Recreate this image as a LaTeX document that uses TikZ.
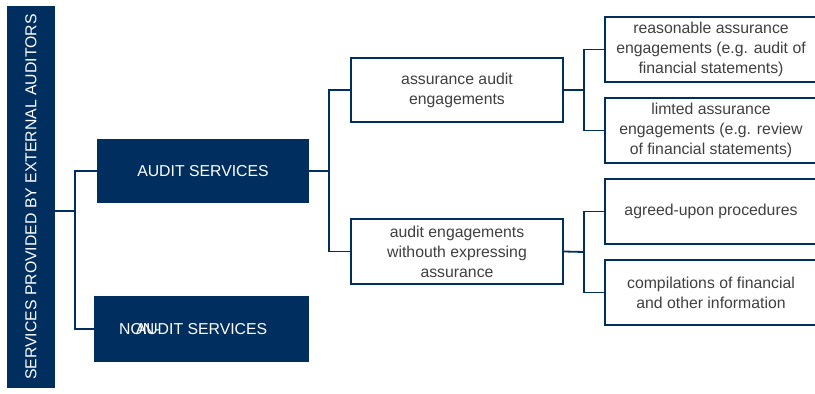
\documentclass[tikz,border=0pt]{standalone}
\usepackage{fontspec}
\setmainfont{Liberation Sans}
\definecolor{navy}{RGB}{0,47,95}
\definecolor{txtgray}{RGB}{64,64,64}
\begin{document}
\begin{tikzpicture}[x=1pt,y=-1pt,
  base/.style={font=\fontsize{15.8}{20}\selectfont, inner sep=0pt, align=center},
  darkbox/.style={base, fill=navy, text=white, minimum width=212pt, minimum height=64pt},
  lightbox/.style={base, draw=navy, line width=1.8pt, fill=white, text=txtgray, minimum width=212pt, minimum height=64pt},
  conn/.style={draw=navy, line width=1.8pt}]
\useasboundingbox (0,0) rectangle (815,394);
\begin{scope}
\clip (0,0) rectangle (815,394);
\node[base, fill=navy, text=white, minimum width=48pt, minimum height=382pt] (side) at (31,197)
  {\rotatebox{90}{SERVICES PROVIDED BY EXTERNAL AUDITORS}};
\node[darkbox] (audit) at (203,171) {AUDIT SERVICES};
\node[darkbox, minimum width=215pt, minimum height=66pt] (nonaudit) at (201.5,329) {AUDIT SERVICES};
\coordinate (nx) at (119,0);
\node[base, text=white, anchor=base west] (non) at (nonaudit.base -| nx) {NON-};
\node[lightbox] (assur) at (457,90) {assurance audit\\engagements};
\node[lightbox, minimum height=65pt] (without) at (457,251.5) {audit engagements\\withouth expressing\\assurance};
\node[lightbox, minimum height=65pt] (reas) at (711,49.5) {reasonable assurance\\engagements (e.g. audit of\\financial statements)};
\node[lightbox, minimum height=65pt] (lim) at (711,130.5) {limted assurance\\engagements (e.g. review\\of financial statements)};
\node[lightbox, minimum height=65pt] (agreed) at (711,211.5) {agreed-upon procedures};
\node[lightbox, minimum height=65pt] (comp) at (711,292.5) {compilations of financial\\and other information};
\coordinate (j1) at (75,211);
\coordinate (j2) at (329,171);
\coordinate (j3) at (584,90);
\coordinate (j4) at (584,252);
\draw[conn] (side.east |- j1) -- (j1);
\draw[conn] (audit.west) -| (j1 |- nonaudit.west) -- (nonaudit.west);
\draw[conn] (audit.east) -- (j2);
\draw[conn] (assur.west) -| (j2 |- without.west) -- (without.west);
\draw[conn] (assur.east) -- (j3);
\draw[conn] (reas.west) -| (j3 |- lim.west) -- (lim.west);
\draw[conn] (without.east) -- (j4);
\draw[conn] (agreed.west) -| (j4 |- comp.west) -- (comp.west);
\end{scope}
\end{tikzpicture}
\end{document}
